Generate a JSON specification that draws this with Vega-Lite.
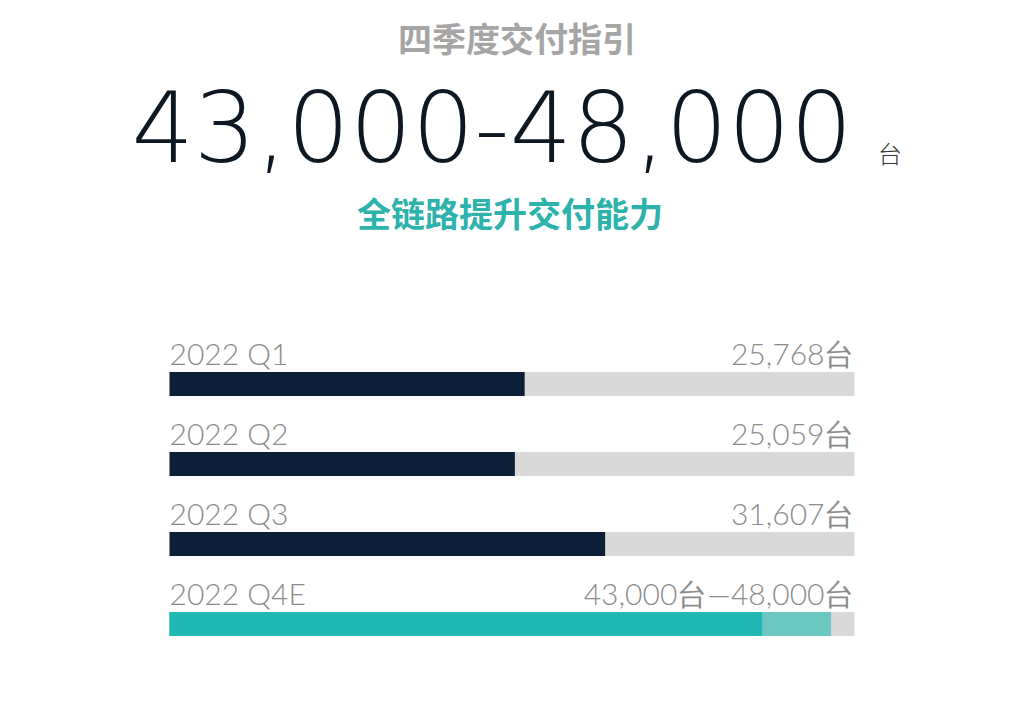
{
  "$schema": "https://vega.github.io/schema/vega-lite/v6.json",
  "background": "white",
  "padding": {"left": 0, "top": 0, "right": 0, "bottom": 45},
  "bounds": "flush",
  "center": true,
  "spacing": 83,
  "config": {
    "view": {"stroke": null},
    "axis": {"disable": true}
  },
  "datasets": {
    "header": [
      {"line": "heading", "part": "heading", "text": "四季度交付指引"},
      {"line": "range", "part": "range", "text": "43,000-48,000"},
      {"line": "range", "part": "unit", "text": "台"},
      {"line": "tagline", "part": "tagline", "text": "全链路提升交付能力"}
    ],
    "deliveries": [
      {"quarter": "2022 Q1", "low": 25768, "high": 25768, "label": "25,768台", "kind": "actual"},
      {"quarter": "2022 Q2", "low": 25059, "high": 25059, "label": "25,059台", "kind": "actual"},
      {"quarter": "2022 Q3", "low": 31607, "high": 31607, "label": "31,607台", "kind": "actual"},
      {"quarter": "2022 Q4E", "low": 43000, "high": 48000, "label": "43,000台—48,000台", "kind": "guidance"}
    ]
  },
  "vconcat": [
    {
      "width": 1024,
      "height": 261,
      "data": {"name": "header"},
      "encoding": {
        "y": {
          "field": "line",
          "type": "nominal",
          "axis": null,
          "scale": {"type": "point", "domain": ["heading", "range", "tagline"], "padding": 0.5}
        },
        "text": {"field": "text", "type": "nominal"}
      },
      "layer": [
        {
          "transform": [{"filter": "datum.part === 'heading'"}],
          "mark": {"type": "text", "font": "Noto Sans CJK SC", "fontWeight": 700, "fontSize": 34, "color": "#a5a5a5", "baseline": "middle", "dx": 5, "dy": -2}
        },
        {
          "transform": [{"filter": "datum.part === 'range'"}],
          "mark": {"type": "text", "font": "DejaVu Sans", "fontWeight": 200, "fontSize": 98, "color": "#0e1822", "baseline": "alphabetic", "dx": -20, "dy": 31}
        },
        {
          "transform": [{"filter": "datum.part === 'unit'"}],
          "mark": {"type": "text", "font": "Noto Sans CJK SC", "fontWeight": 300, "fontSize": 24, "color": "#333333", "align": "left", "baseline": "alphabetic", "dx": 366, "dy": 32}
        },
        {
          "transform": [{"filter": "datum.part === 'tagline'"}],
          "mark": {"type": "text", "font": "Noto Sans CJK SC", "fontWeight": 700, "fontSize": 34, "color": "#2db2ac", "baseline": "middle", "dx": -2, "dy": -1}
        }
      ]
    },
    {
      "width": 685,
      "height": 320,
      "data": {"name": "deliveries"},
      "encoding": {
        "y": {
          "field": "quarter",
          "type": "nominal",
          "sort": null,
          "axis": null,
          "scale": {"paddingInner": 0.7, "paddingOuter": 0.35}
        }
      },
      "layer": [
        {
          "mark": {"type": "bar", "color": "#d9d9d9"},
          "encoding": {
            "x": {"datum": 0, "type": "quantitative", "scale": {"domain": [0, 49700], "nice": false}, "axis": null},
            "x2": {"datum": 49700}
          }
        },
        {
          "transform": [{"filter": "datum.kind === 'guidance'"}],
          "mark": {"type": "bar", "color": "#6cc7c3"},
          "encoding": {
            "x": {"field": "high", "type": "quantitative"}
          }
        },
        {
          "mark": {"type": "bar"},
          "encoding": {
            "x": {"field": "low", "type": "quantitative"},
            "color": {
              "field": "kind",
              "type": "nominal",
              "scale": {"domain": ["actual", "guidance"], "range": ["#0c2138", "#21b8b3"]},
              "legend": null
            }
          }
        },
        {
          "mark": {"type": "text", "font": "Lato", "fontWeight": 300, "fontSize": 30, "color": "#8c8c8c", "align": "left", "baseline": "alphabetic", "dy": -7},
          "encoding": {
            "x": {"datum": 0, "type": "quantitative"},
            "y": {"field": "quarter", "type": "nominal", "sort": null, "bandPosition": 0},
            "text": {"field": "quarter", "type": "nominal"}
          }
        },
        {
          "mark": {"type": "text", "font": "Lato", "fontWeight": 300, "fontSize": 30, "color": "#8c8c8c", "align": "right", "baseline": "alphabetic", "dy": -7},
          "encoding": {
            "x": {"datum": 49700, "type": "quantitative"},
            "y": {"field": "quarter", "type": "nominal", "sort": null, "bandPosition": 0},
            "text": {"field": "label", "type": "nominal"}
          }
        }
      ]
    }
  ]
}
